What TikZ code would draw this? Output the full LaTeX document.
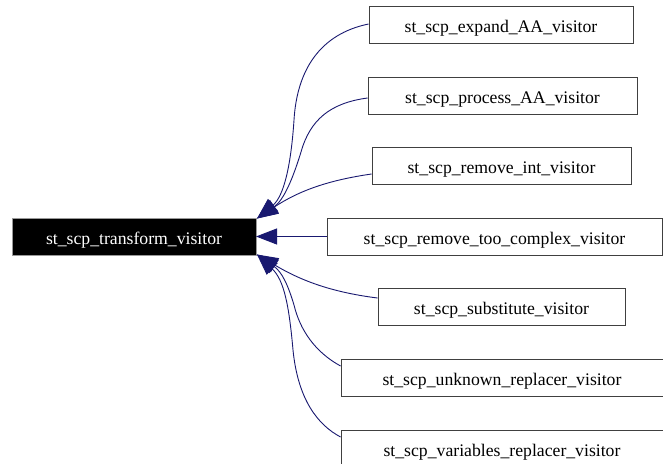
\documentclass[tikz,border=0pt]{standalone}
\usepackage{fontspec}
\setmainfont{Liberation Serif}
\usetikzlibrary{arrows.meta}
\definecolor{edgecol}{RGB}{25,25,112}
\begin{document}
\begin{tikzpicture}[x=1pt,y=-1pt,
  box/.style={draw=black!75,line width=0.9pt,fill=white,minimum height=37pt,inner sep=0pt,text height=15pt,text depth=0pt,font=\fontsize{17.7}{20}\selectfont},
  rootbox/.style={box,draw=black!40,fill=black,text=white},
  edge/.style={draw=edgecol,line width=0.9pt,-{Triangle[length=21pt,width=16pt]}}]
\useasboundingbox (0,0) rectangle (663,463);
\node[rootbox,minimum width=244pt] (root) at (134,236.5) {st\_scp\_transform\_visitor};
\node[box,minimum width=264pt] (c1) at (501,24.5) {st\_scp\_expand\_AA\_visitor};
\node[box,minimum width=269pt] (c2) at (502.5,95.5) {st\_scp\_process\_AA\_visitor};
\node[box,minimum width=259pt] (c3) at (501.5,165.5) {st\_scp\_remove\_int\_visitor};
\node[box,minimum width=335pt] (c4) at (494.5,236.5) {st\_scp\_remove\_too\_complex\_visitor};
\node[box,minimum width=247pt] (c5) at (501.5,306.5) {st\_scp\_substitute\_visitor};
\node[box,minimum width=322pt] (c6) at (502,377.5) {st\_scp\_unknown\_replacer\_visitor};
\node[box,minimum width=322pt] (c7) at (502,448.5) {st\_scp\_variables\_replacer\_visitor};
\coordinate (t1) at (257,218.5);
\coordinate (t2) at (256,236.5);
\coordinate (t3) at (257,254.5);
\coordinate (s1) at (c1.west |- 0,24);
\coordinate (s2) at (c2.west |- 0,98);
\coordinate (s3) at (c3.west |- 0,174);
\coordinate (s5) at (c5.west |- 0,298);
\coordinate (s6) at (c6.west |- 0,366);
\coordinate (s7) at (c7.west |- 0,437);
\draw[edge] (s1) .. controls (320,34) and (297,70) .. (294,120) .. controls (291,165) and (284,196) .. (t1);
\draw[edge] (s2) .. controls (330,103) and (310,120) .. (301,152) .. controls (293,178) and (284,200) .. (t1);
\draw[edge] (s3) .. controls (330,180) and (300,190) .. (t1);
\draw[edge] (c4.west) -- (t2);
\draw[edge] (s5) .. controls (330,292) and (300,280) .. (t3);
\draw[edge] (s6) .. controls (315,352) and (300,330) .. (294,305) .. controls (288,285) and (282,272) .. (t3);
\draw[edge] (s7) .. controls (318,425) and (298,400) .. (293,350) .. controls (289,305) and (284,280) .. (t3);
\end{tikzpicture}
\end{document}
